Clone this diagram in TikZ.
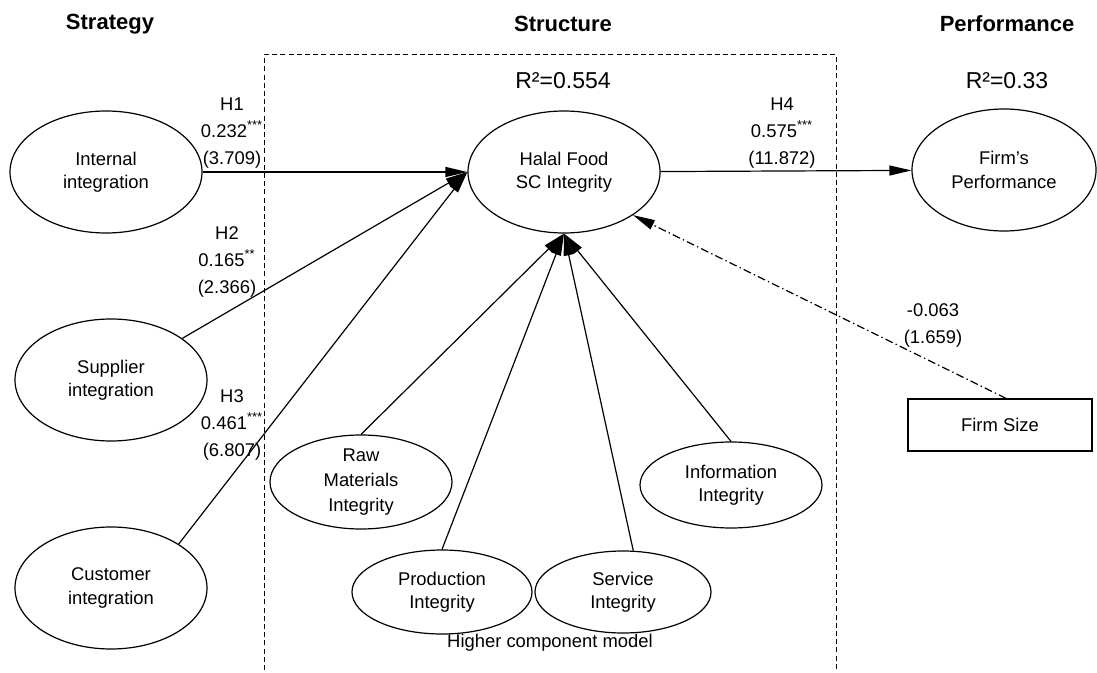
\documentclass[tikz,border=0pt]{standalone}
\usepackage{fontspec}
\setmainfont{Liberation Sans}
\usetikzlibrary{shapes.geometric,arrows.meta}
\tikzset{x=0.5pt,y=-0.5pt}
\tikzset{
	latent/.style={draw, ellipse, line width=0.6pt, inner sep=0pt, align=center,
		minimum width=96pt, minimum height=61pt, font=\fontsize{9.2}{11.6}\selectfont},
	dimension/.style={latent, minimum width=91pt, minimum height=43pt},
	ctrlbox/.style={draw, rectangle, line width=0.6pt, minimum width=92pt, minimum height=26pt,
		font=\fontsize{9.2}{11.6}\selectfont},
	heading/.style={font=\bfseries\fontsize{11}{13}\selectfont},
	coef/.style={align=center, font=\fontsize{9.2}{13.5}\selectfont},
	effect/.style={line width=0.6pt, -{Triangle[length=11pt,width=5pt]}},
}
\def\sig{\textsuperscript{***}}

\begin{document}
\begin{tikzpicture}
\useasboundingbox (0,0) rectangle (1097,673);

%% Column headings
\node[heading] (strat) at (110,24) {Strategy};
\node[heading] (struct) at (563,24) {Structure};
\node[heading] (perf) at (1007,24) {Performance};

%% Higher component model frame
\draw[line width=0.5pt, dash pattern=on 2.5pt off 1.6pt] (264,670) -- (264,55) -- (836,55) -- (836,670);
\node[font=\fontsize{9.2}{11}\selectfont] (HCM) at (550,643) {Higher component model};

%% Constructs
\node[latent] (II) at (106,172) {Internal\\integration};
\node[latent] (SI) at (111,380) {Supplier\\integration};
\node[latent] (CI) at (111,588) {Customer\\integration};
\node[latent] (HF) at (564,172) {Halal Food\\SC Integrity};
\node[latent, minimum width=92pt] (FP) at (1004,170) {Firm’s\\Performance};
\node[ctrlbox] (FS) at (1000,425) {Firm Size};

\node[dimension, font=\fontsize{9.2}{12.5}\selectfont] (RM) at (361,482) {Raw\\Materials\\Integrity};
\node[dimension, minimum width=90pt, minimum height=42pt] (PI) at (442,592) {Production\\Integrity};
\node[dimension, minimum width=88pt, minimum height=41pt] (SV) at (623,592) {Service\\Integrity};
\node[dimension] (IF) at (731,485) {Information\\Integrity};

%% R squared
\node[font=\fontsize{11.5}{13}\selectfont] (R1) at (563,81) {R²=0.554};
\node[font=\fontsize{11.5}{13}\selectfont] (R2) at (1007,81) {R²=0.33};

%% Structural paths
\draw[effect] (II) -- (HF.west);
\draw[effect] (SI) -- (HF.west);
\draw[effect] (CI.33) -- (HF.west);
\draw[effect] (HF) -- (FP);

\draw[effect] (RM.north) -- (HF.south);
\draw[effect] (PI.north) -- (HF.south);
\draw[effect] (SV.76) -- (HF.south);
\draw[effect] (IF.north) -- (HF.south);

\draw[effect, dash pattern=on 4pt off 1.6pt on 0.7pt off 1.6pt] (FS.77) -- (HF.-32);

%% Path coefficients
\node[coef] (H1) at (232,133) {H1\\0.232\sig\\(3.709)};
\node[coef] (H2) at (227,262) {H2\\0.165\textsuperscript{**}\\(2.366)};
\node[coef] (H3) at (232,425) {H3\\0.461\sig\\(6.807)};
\node[coef] (H4) at (782,133) {H4\\0.575\sig\\(11.872)};
\node[coef] (FSc) at (933,325) {-0.063\\(1.659)};

\end{tikzpicture}
\end{document}
